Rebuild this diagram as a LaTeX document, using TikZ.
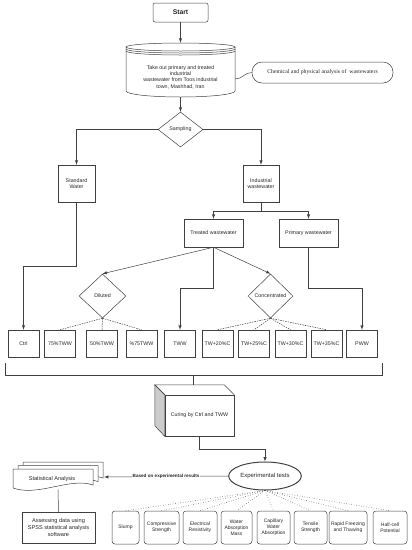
\documentclass[tikz,border=0pt]{standalone}
\usepackage{fontspec}
\setmainfont{Liberation Sans}
\newfontfamily\chemfont{Liberation Serif}
\usetikzlibrary{shapes,arrows,calc}

\begin{document}
\begin{tikzpicture}[x=1pt,y=1pt,line width=0.5pt,color=black!75,
  every node/.style={font=\fontsize{5.3}{6.3}\selectfont,text=black!85,align=center,inner sep=1pt},
  sbox/.style={draw,rectangle,minimum width=31pt,minimum height=27pt},
  diam/.style={draw,diamond,inner sep=0pt},
  tbox/.style={draw,rounded corners=3pt,minimum height=33pt},
  fine dash/.style={dash pattern=on 1.5pt off 1pt},
  lbl/.style={fill=white,inner sep=0.5pt,font=\bfseries\fontsize{4.6}{5.5}\selectfont}]
\useasboundingbox (0,0) rectangle (412,-550);
%top
\node[draw,rounded corners=2pt,minimum width=55pt,minimum height=19pt,font=\bfseries\fontsize{6.8}{8}\selectfont] (start) at (180.5,-12.5) {Start};
\node[minimum width=109pt,minimum height=54pt] (take) at (180.5,-70) {\rule{0pt}{18pt}Take out primary and treated\\industrial\\wastewater from Toos industrial\\town, Mashhad, Iran};
\draw (126,-47) -- (126,-91) arc[start angle=180,end angle=360,x radius=54.5,y radius=6] -- (235,-47);
\draw (180.5,-47) ellipse [x radius=54.5,y radius=4];
\foreach \d in {2,4}
\draw (126,{-47-\d}) arc[start angle=180,end angle=360,x radius=54.5,y radius=4];
\node[draw,rounded corners=10pt,minimum width=141pt,minimum height=21pt,font=\chemfont\fontsize{5.8}{7}\selectfont] (chem) at (322.5,-72.5) {Chemical and physical analysis of\ \ wastewaters};
\draw ([yshift=-9pt]take.east) to[out=0,in=180] (chem.west);
\node[diam,minimum width=45pt,minimum height=35pt] (sampling) at (180.5,-129.5) {Sampling};
\draw[-latex] (start.south) -- (take.north);
\draw[-latex] (take.south) -- (sampling.north);
%branches
\node[draw,minimum width=37pt,minimum height=37pt] (standard) at (76.5,-183.5) {Standard\\Water};
\node[draw,minimum width=36pt,minimum height=37pt] (industrial) at (261,-183.5) {Industrial\\wastewater};
\draw[-latex] (sampling.west) -| (standard.north);
\draw[-latex] (sampling.east) -| (industrial.north);
\node[draw,minimum width=59pt,minimum height=28pt] (treated) at (213.5,-233) {Treated wastewater};
\node[draw,minimum width=59pt,minimum height=28pt] (primary) at (308.5,-233) {Primary wastewater};
\draw (industrial.south) -- ++(0,-9) coordinate (ib);
\draw[-latex] (ib) -| (treated.north);
\draw[-latex] (ib) -| (primary.north);
\node[diam,minimum width=47pt,minimum height=44pt] (diluted) at (102.5,-296) {Diluted};
\node[diam,minimum width=45pt,minimum height=44pt] (conc) at (270.5,-296) {Concentrated};
\draw[-latex] (treated.south) -- (diluted.north);
\draw[-latex] (treated.south) -- (conc.north);
%samples
\foreach \x/\name/\txt in {23.5/ctrl/Ctrl,60/dA/75\%TWW,102/dB/50\%TWW,141.5/dC/\%75TWW,180/tww/TWW,
  217.5/cA/TW+20\%C,254/cB/TW+25\%C,290.5/cC/TW+30\%C,326.5/cD/TW+35\%C,362/pww/PWW}
\node[sbox] (\name) at (\x,-343.5) {\txt};
\draw[-latex] (standard.south) -- ++(0,-64) -| (ctrl.north);
\draw[-latex] (treated.south) -- ++(0,-41) -| (tww.north);
\draw[-latex] (primary.south) -- ++(0,-41) -| (pww.north);
\foreach \n in {dA,dB,dC}
\draw[fine dash] (diluted.south) -- (\n.north);
\foreach \n in {cA,cB,cC,cD}
\draw[fine dash] (conc.south) -- (\n.north);
%bracket
\coordinate (bl) at (5,-363);
\coordinate (br) at (382,-363);
\coordinate (bs) at (193,-375);
\draw (bl) -- (bl |- bs) -- (br |- bs) -- (br);
%curing
\node[minimum width=69pt,minimum height=41pt] (curing) at (199.5,-415.5) {Curing by Ctrl and TWW};
\draw[fill=black!20] (curing.north west) -- ++(-10,10) -- ++(0,-41) -- (curing.south west) -- cycle;
\draw (curing.north west) -- ++(-10,10) coordinate (ctl) -- ($(curing.north east)+(-10,10)$) -- (curing.north east);
\draw (curing.north west) rectangle (curing.south east);
\draw (bs) -- (bs |- ctl);
%tests
\node[draw,ellipse,line width=1pt,minimum width=72pt,minimum height=28pt,font=\fontsize{6}{7}\selectfont] (tests) at (265,-476) {Experimental tests};
\draw[-latex] (curing.south) -- ++(0,-13) -| (tests.north);
%statistics
\node[minimum width=80pt,minimum height=20pt,font=\fontsize{5.6}{6.6}\selectfont] (stats) at (52,-479) {};
\foreach \d in {10,5,0}
\draw[shift={(\d,{0.7*\d})},fill=white] (13,-469) -- (93,-469) -- (93,-485) .. controls (70,-477) and (38,-497) .. (13,-488) -- cycle;
\node[font=\fontsize{5.6}{6.6}\selectfont] at (stats) {Statistical Analysis};
\coordinate (sback) at (104,-477);
\draw[-latex] (tests.west) -- node[lbl] {Based on experimental results} (sback);
\node[draw,minimum width=73pt,minimum height=31pt,font=\fontsize{5.6}{6.6}\selectfont] (assess) at (58.5,-527.5) {Assessing data using\\SPSS statistical analysis\\software};
\draw (stats.south) ++(6,0) -- (assess.north);
\foreach \x/\w/\name/\txt in {125.5/27/slump/Slump,161.5/35/comp/{Compressive\\Strength},200/34/elec/{Electrical\\Resistivity},
  236.5/31/wam/{Water\\Absorption\\Mass},273.5/33/cap/{Capillary\\Water\\Absorption},310.5/33/tens/{Tensile\\Strength},
  348/38/rapid/{Rapid Freezing\\and Thawing},390/34/half/{Half-cell\\Potential}}
\node[tbox,minimum width=\w pt,font=\fontsize{5}{6}\selectfont] (\name) at (\x,-527.5) {\txt};
\foreach \n in {slump,comp,elec,wam,cap,tens,rapid,half}
\draw[dotted] (tests.south) -- (\n.north);
\end{tikzpicture}
\end{document}
